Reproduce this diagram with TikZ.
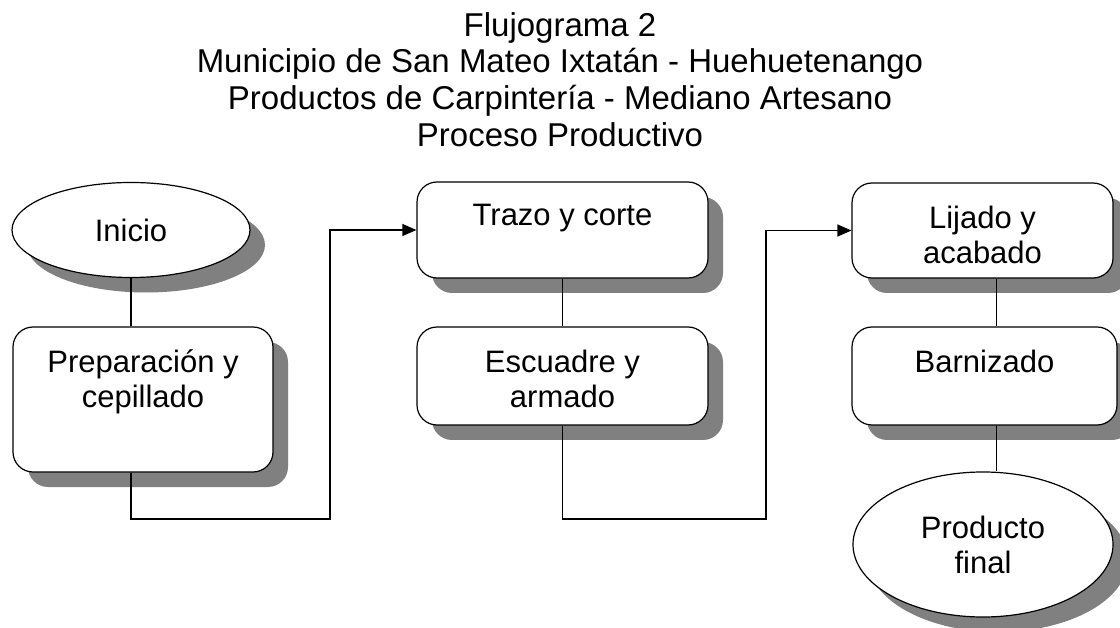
\documentclass[tikz,border=0pt]{standalone}
\usepackage{fontspec}
\setmainfont{Liberation Sans}
\usetikzlibrary{shapes.geometric,shadows,arrows.meta}
\definecolor{shadowgray}{HTML}{808080}

\tikzset{
  dropgray/.style={drop shadow={shadow xshift=15pt,shadow yshift=-15pt,fill=shadowgray,opacity=1}},
  proc/.style={draw,rounded corners=20pt,fill=white,line width=1.2pt,dropgray,inner sep=0pt},
  term/.style={draw,ellipse,fill=white,line width=1.2pt,dropgray,inner sep=0pt,align=center,
    font=\fontsize{31}{35}\selectfont},
  boxtext/.style={anchor=north,yshift=-23pt,inner sep=0pt,align=center,font=\fontsize{31}{35}\selectfont},
  flow/.style={line width=1.2pt},
  flowarrow/.style={line width=1.2pt,-{Triangle[length=14pt,width=12pt]}}
}

\begin{document}
\begin{tikzpicture}[x=1pt,y=-1pt]
\useasboundingbox (0,0) rectangle (1120,628);

% titulo
\node[anchor=north,align=center,inner sep=0pt,font=\fontsize{33}{36.7}\selectfont] (Titulo) at (560,12)
  {Flujograma 2\\Municipio de San Mateo Ixtatán - Huehuetenango\\Productos de Carpintería - Mediano Artesano\\Proceso Productivo};

% columna 1
\node[term,minimum width=238pt,minimum height=95pt] (Inicio) at (131,230) {Inicio};
\node[proc,minimum width=260pt,minimum height=145pt] (Prep) at (143,399.5) {};
\node[boxtext] (PrepT) at (Prep.north) {Preparación y\\cepillado};

% columna 2
\node[proc,minimum width=291pt,minimum height=96pt] (Trazo) at (562.5,230) {};
\node[boxtext] (TrazoT) at (Trazo.north) {Trazo y corte};
\node[proc,minimum width=291pt,minimum height=98pt] (Escuadre) at (562.5,376) {};
\node[boxtext] (EscuadreT) at (Escuadre.north) {Escuadre y\\armado};

% columna 3
\node[proc,minimum width=261pt,minimum height=95pt] (Lijado) at (982.5,230.5) {};
\node[boxtext] (LijadoT) at (Lijado.north) {Lijado y\\acabado};
\node[proc,minimum width=265pt,minimum height=98pt] (Barniz) at (984.5,376) {};
\node[boxtext] (BarnizT) at (Barniz.north) {Barnizado};
\node[term,minimum width=260pt,minimum height=145pt] (Producto) at (983,544.5) {Producto\\final};

\coordinate (bend1) at (330,519);
\coordinate (bend2) at (766,519);

\draw[flow] (Inicio.south) -- (Inicio.south |- Prep.north);
\draw[flowarrow] (Prep.south -| Inicio) |- (bend1) |- (Trazo.west);
\draw[flow] (Trazo) -- (Escuadre);
\draw[flowarrow] (Escuadre.south) |- (bend2) |- (Lijado.west);
\draw[flow] ([xshift=14pt]Lijado.south) -- ([xshift=14pt]Lijado.south |- Barniz.north);
\draw[flow] ([xshift=12pt]Barniz.south) -- ([xshift=12pt]Barniz.south |- Producto.north);
\end{tikzpicture}
\end{document}
